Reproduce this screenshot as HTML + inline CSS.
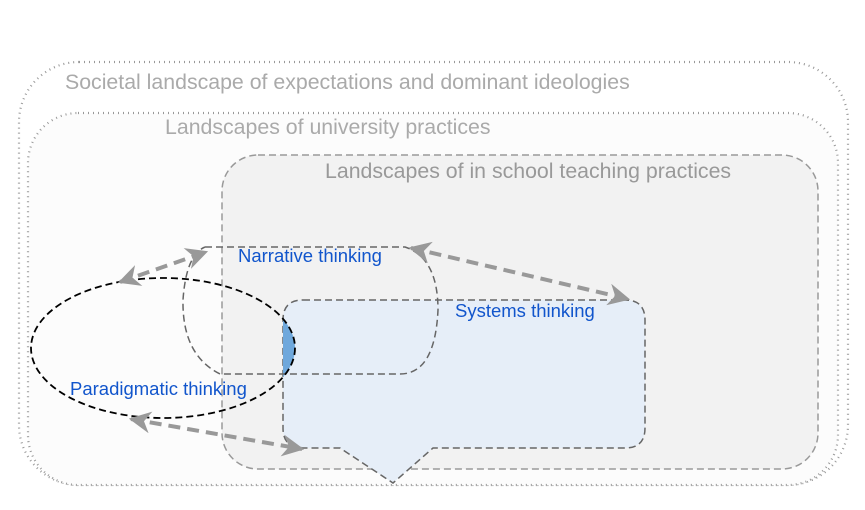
<!DOCTYPE html>
<html><head><style>body{margin:0;background:#fff}svg{display:block}</style></head><body>
<svg width="865" height="510" viewBox="0 0 865 510" xmlns="http://www.w3.org/2000/svg" font-family="Liberation Sans, sans-serif">
<defs>
<marker id="ah" viewBox="0 0 10 10" refX="9" refY="5" markerWidth="5.5" markerHeight="5.5" orient="auto-start-reverse">
<path d="M0,0 L10,5 L0,10 L3,5 z" fill="#999"/></marker>
<clipPath id="ec"><ellipse cx="163" cy="348" rx="132" ry="70"/></clipPath>
</defs>
<rect x="19" y="62" width="829" height="423" rx="60" fill="#fff" stroke="#999" stroke-width="2.2" stroke-dasharray="1 4"/>
<rect x="28" y="113" width="810" height="372" rx="50" fill="#fcfcfc" stroke="#999" stroke-width="2.2" stroke-dasharray="1 4"/>
<rect x="222" y="155" width="596" height="314" rx="36" fill="#f2f2f2" stroke="#999" stroke-width="1.5" stroke-dasharray="7 4"/>
<text x="65" y="89" font-size="21.3" fill="#aaa">Societal landscape of expectations and dominant ideologies</text>
<text x="165" y="134" font-size="21.3" fill="#aaa">Landscapes of university practices</text>
<text x="325" y="178" font-size="21.3" fill="#999">Landscapes of in school teaching practices</text>
<path d="M303,300 H625 Q645,300 645,320 V428 Q645,448 625,448 H433 L393,483 L340,448 H303 Q283,448 283,428 V320 Q283,300 303,300 Z" fill="#e6eef8" stroke="#666" stroke-width="1.5" stroke-dasharray="7 4"/>
<path d="M283,290 H300 V380 H283 Z" fill="#6fa8dc" clip-path="url(#ec)"/>
<path d="M205,247 H405 Q438,258 438,310 Q435,374 400,374 H220 Q182,355 183,300 Q186,255 205,247" fill="none" stroke="#666" stroke-width="1.5" stroke-dasharray="7 4"/>
<ellipse cx="163" cy="348" rx="132" ry="70" fill="none" stroke="#000" stroke-width="1.8" stroke-dasharray="7 4"/>
<text x="238" y="262" font-size="18.5" fill="#1155cc">Narrative thinking</text>
<text x="455" y="317" font-size="18.5" fill="#1155cc">Systems thinking</text>
<text x="70" y="395" font-size="18.5" fill="#1155cc">Paradigmatic thinking</text>
<g stroke="#999" stroke-width="4" stroke-dasharray="12 7" fill="none">
<line x1="120" y1="282" x2="206" y2="252" marker-start="url(#ah)" marker-end="url(#ah)"/>
<line x1="411" y1="248" x2="628" y2="299" marker-start="url(#ah)" marker-end="url(#ah)"/>
<line x1="131" y1="419" x2="302" y2="449" marker-start="url(#ah)" marker-end="url(#ah)"/>
</g>
</svg>
</body></html>
